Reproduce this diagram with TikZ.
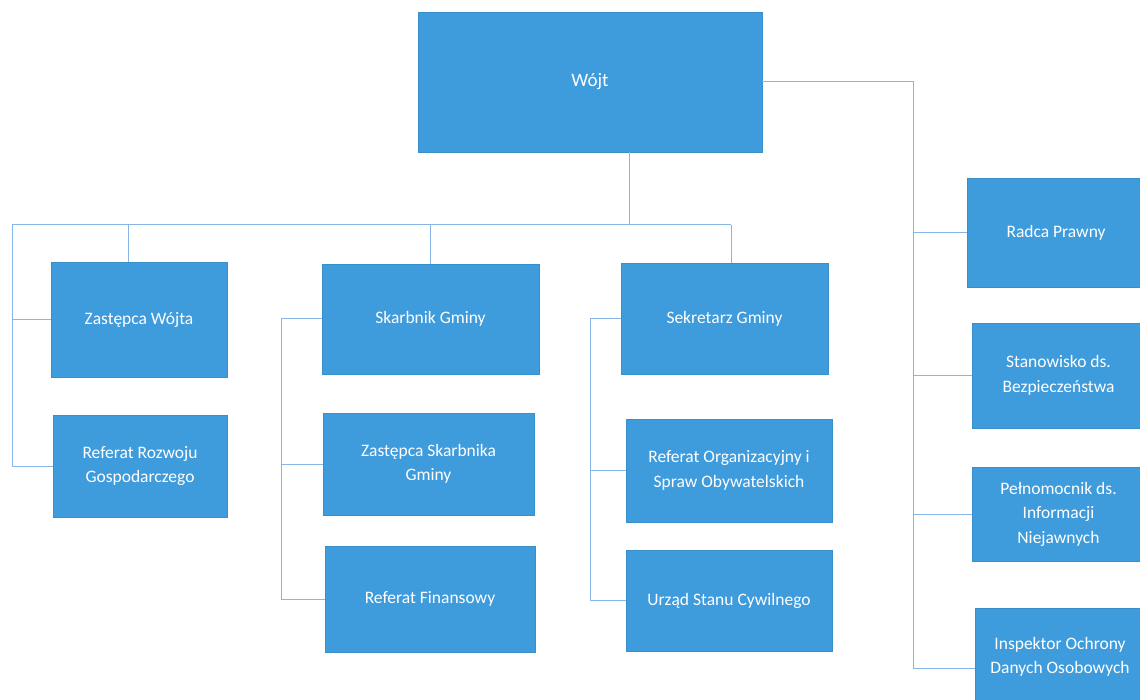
\documentclass[tikz,border=0pt]{standalone}
\usepackage{fontspec}
\setmainfont{Carlito}
\definecolor{boxblue}{HTML}{3E9BDC}
\definecolor{linkblue}{HTML}{86B6E6}
\begin{document}
\begin{tikzpicture}[x=1pt,y=-1pt,
  box/.style={fill=boxblue, draw=boxblue!92!black, line width=0.6pt, inner sep=0pt,
    text=white, align=center, font=\fontsize{17.5}{24.5}\selectfont},
  link/.style={draw=linkblue, line width=1pt}]
\useasboundingbox (0,0) rectangle (1140,700);
\clip (0,0) rectangle (1140,700);
\fill[white] (0,0) rectangle (1140,700);

% nodes
\node[box, minimum width=344pt, minimum height=140pt, font=\fontsize{19}{24}\selectfont] (wojt) at (590,82) {Wójt};

\node[box, minimum width=176pt, minimum height=115pt] (zw) at (139,319.5) {Zastępca Wójta};
\node[box, minimum width=174pt, minimum height=102pt] (rrg) at (140,466) {Referat Rozwoju\\Gospodarczego};

\node[box, minimum width=217pt, minimum height=110pt] (skb) at (430.5,319) {Skarbnik Gminy};
\node[box, minimum width=211pt, minimum height=102pt] (zsk) at (428.5,464) {Zastępca Skarbnika\\Gminy};
\node[box, minimum width=210pt, minimum height=106pt] (rf) at (430,599) {Referat Finansowy};

\node[box, minimum width=207pt, minimum height=111pt] (sek) at (724.5,318.5) {Sekretarz Gminy};
\node[box, minimum width=206pt, minimum height=103pt] (ros) at (729,470.5) {Referat Organizacyjny i\\Spraw Obywatelskich};
\node[box, minimum width=206pt, minimum height=101pt] (usc) at (729,600.5) {Urząd Stanu Cywilnego};

\node[box, minimum width=178pt, minimum height=109pt] (rp) at (1056,232.5) {Radca Prawny};
\node[box, minimum width=173pt, minimum height=105pt] (sb) at (1058.5,375.5) {Stanowisko ds.\\Bezpieczeństwa};
\node[box, minimum width=173pt, minimum height=94pt] (pel) at (1058.5,514) {Pełnomocnik ds.\\Informacji\\Niejawnych};
\node[box, minimum width=170pt, minimum height=98pt] (ins) at (1060,657) {Inspektor Ochrony\\Danych Osobowych};

% junction coordinates
\coordinate (j0) at (629,225);
\coordinate (lb) at (12,225);
\coordinate (jz) at (128,225);
\coordinate (js) at (430,225);
\coordinate (jk) at (731,225);
\coordinate (sbr) at (281,319);
\coordinate (kbr) at (590,318.5);
\coordinate (rb) at (913,82);
\coordinate (insc) at (975,668);

% connectors
\draw[link] (wojt.south -| j0) -- (j0);
\draw[link] (lb) -- (jk);
\draw[link] (jz) -- (zw.north -| jz);
\draw[link] (js) -- (skb.north -| js);
\draw[link] (jk) -- (sek.north -| jk);
\draw[link] (lb) |- (rrg.west);
\draw[link] (lb |- zw.west) -- (zw.west);

\draw[link] (skb.west) -- (sbr) |- (rf.west);
\draw[link] (sbr |- zsk.west) -- (zsk.west);

\draw[link] (sek.west) -- (kbr) |- (usc.west);
\draw[link] (kbr |- ros.west) -- (ros.west);

\draw[link] (wojt.east) -- (rb) |- (insc);
\draw[link] (rb |- rp.west) -- (rp.west);
\draw[link] (rb |- sb.west) -- (sb.west);
\draw[link] (rb |- pel.west) -- (pel.west);
\end{tikzpicture}
\end{document}
